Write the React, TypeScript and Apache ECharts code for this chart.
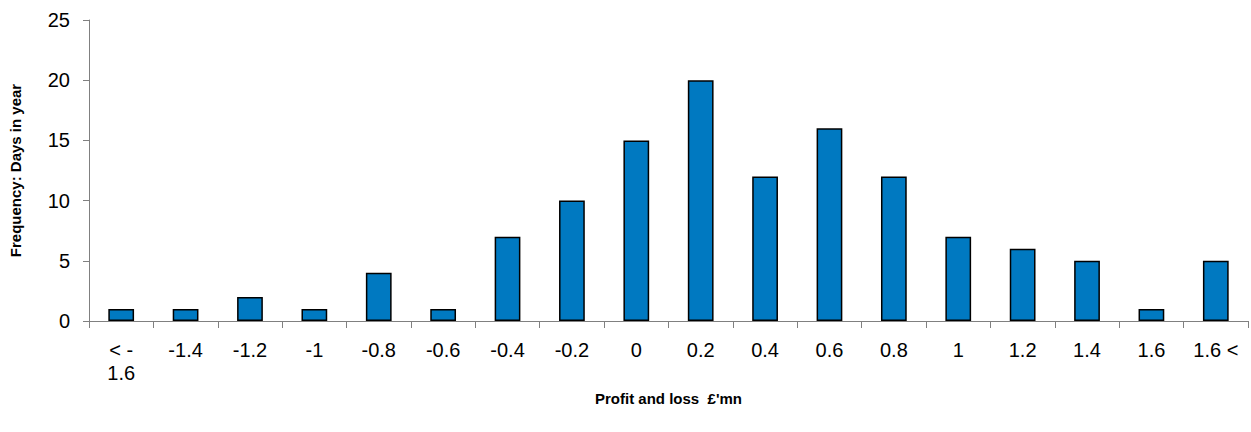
import React, { useEffect, useRef } from "react";
import * as echarts from "echarts";

const categories = ["< -\n1.6", "-1.4", "-1.2", "-1", "-0.8", "-0.6", "-0.4", "-0.2", "0", "0.2", "0.4", "0.6", "0.8", "1", "1.2", "1.4", "1.6", "1.6 <"];
const frequency = [1, 1, 2, 1, 4, 1, 7, 10, 15, 20, 12, 16, 12, 7, 6, 5, 1, 5];
const xTitle = "Profit and loss  £'mn";
const yTitle = "Frequency: Days in year";

const FONT = "'Liberation Sans', Arial, Helvetica, sans-serif";

export default function App() {
  const ref = useRef<HTMLDivElement>(null);
  useEffect(() => {
    if (!ref.current) return;
    const chart = echarts.init(ref.current, null, { renderer: "svg" });
    chart.setOption({
      animation: false,
      backgroundColor: "#ffffff",
      grid: { left: 83, right: 3, top: 20, bottom: 111, containLabel: false },
      xAxis: {
        type: "category",
        data: categories,
        name: xTitle,
        nameLocation: "middle",
        nameGap: 70,
        nameTextStyle: { fontFamily: FONT, fontSize: 15, fontWeight: "bold", color: "#000" },
        axisLine: { lineStyle: { color: "#808080", width: 1 } },
        axisTick: { show: true, length: 7, lineStyle: { color: "#808080" } },
        axisLabel: { fontFamily: FONT, fontSize: 20, color: "#000", margin: 17, interval: 0, lineHeight: 23 },
      },
      yAxis: {
        type: "value",
        min: 0,
        max: 25,
        interval: 5,
        name: yTitle,
        nameLocation: "middle",
        nameGap: 66,
        nameTextStyle: { fontFamily: FONT, fontSize: 15, fontWeight: "bold", color: "#000" },
        axisLine: { show: true, lineStyle: { color: "#808080", width: 1 } },
        axisTick: { show: true, length: 6, lineStyle: { color: "#808080" } },
        axisLabel: { fontFamily: FONT, fontSize: 20, color: "#000", margin: 19 },
        splitLine: { show: false },
      },
      series: [
        {
          type: "bar",
          data: frequency,
          barWidth: "40%",
          itemStyle: { color: "#0079C1", borderColor: "#000000", borderWidth: 1.5 },
        },
      ],
    });
    return () => chart.dispose();
  }, []);
  return <div ref={ref} style={{ position: "absolute", left: 0, top: 0, width: 1251, height: 432 }} />;
}
